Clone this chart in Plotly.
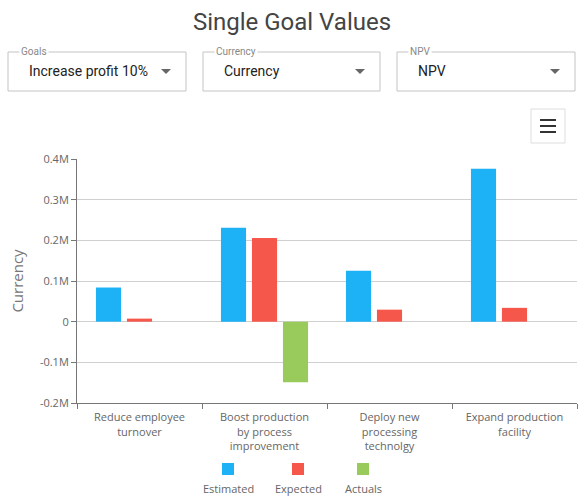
import plotly.graph_objects as go

categories = [
    "Reduce employee<br>turnover",
    "Boost production<br>by process<br>improvement",
    "Deploy new<br>processing<br>technolgy",
    "Expand production<br>facility",
]
series_names = ["Estimated", "Expected", "Actuals"]
estimated = [84000, 231000, 125000, 376000]
expected = [7500, 206000, 29500, 34000]
actuals = [0, -149000, 0, 0]
series_values = [estimated, expected, actuals]
series_colors = ["#1db1f6", "#f6574b", "#98ca5c"]

y_tickvals = [-200000, -100000, 0, 100000, 200000, 300000, 400000]
y_ticktext = ["-0.2M", "-0.1M", "0", "0.1M", "0.2M", "0.3M", "0.4M"]

dropdown_labels = ["Goals", "Currency", "NPV"]
dropdown_values = ["Increase profit 10%", "Currency", "NPV"]

W, H = 584, 498
L, R, T, B = 77, 577, 159, 403


def px(x):
    return (x - L) / (R - L)


def py(y):
    return (B - y) / (B - T)


fig = go.Figure()
for name, vals, col in zip(series_names, series_values, series_colors):
    fig.add_trace(go.Bar(x=categories, y=vals, name=name, marker_color=col,
                         marker_line_width=0, showlegend=False))

shapes = []
annotations = []

# dropdown boxes
boxes = [(8, 186), (203, 380), (397, 575)]
for (x0, x1), lab, val in zip(boxes, dropdown_labels, dropdown_values):
    shapes.append(dict(type="rect", xref="paper", yref="paper",
                       x0=px(x0), x1=px(x1), y0=py(91), y1=py(52),
                       line=dict(color="#c4c4c4", width=1), fillcolor="white"))
    annotations.append(dict(text=lab, xref="paper", yref="paper",
                            x=px(x0 + 11), y=py(52), xanchor="left", yanchor="middle",
                            showarrow=False, bgcolor="white", borderpad=1,
                            font=dict(family="Roboto", size=10, color="#888")))
    annotations.append(dict(text=val, xref="paper", yref="paper",
                            x=px(x0 + 19), y=py(71), xanchor="left", yanchor="middle",
                            showarrow=False,
                            font=dict(family="Roboto", size=14, color="#222")))
    ax = x1 - 20
    shapes.append(dict(type="path", xref="paper", yref="paper",
                       path=f"M {px(ax-5)},{py(69)} L {px(ax+5)},{py(69)} L {px(ax)},{py(74)} Z",
                       line=dict(width=0), fillcolor="#666"))

# menu button
shapes.append(dict(type="rect", xref="paper", yref="paper",
                   x0=px(531), x1=px(565), y0=py(143), y1=py(109),
                   line=dict(color="#dddddd", width=1), fillcolor="white"))
for yy in (120, 126, 132):
    shapes.append(dict(type="line", xref="paper", yref="paper",
                       x0=px(540), x1=px(556), y0=py(yy), y1=py(yy),
                       line=dict(color="#333", width=2)))

# legend
leg_x = [228, 298, 363]
for name, col, cx in zip(series_names, series_colors, leg_x):
    shapes.append(dict(type="rect", xref="paper", yref="paper",
                       x0=px(cx - 6), x1=px(cx + 6), y0=py(475), y1=py(463),
                       line=dict(width=0), fillcolor=col))
    annotations.append(dict(text=name, xref="paper", yref="paper",
                            x=px(cx), y=py(488), xanchor="center", yanchor="middle",
                            showarrow=False,
                            font=dict(family="Open Sans", size=11, color="#666")))

fig.update_layout(
    width=W, height=H,
    margin=dict(l=L, r=W - R, t=T, b=H - B, pad=0),
    paper_bgcolor="white", plot_bgcolor="white",
    barmode="group", bargap=0.256, bargroupgap=0.19,
    title=dict(text="Single Goal Values", x=0.5, xanchor="center",
               y=1 - 22 / H, yanchor="middle",
               font=dict(family="Roboto", size=24, color="#444")),
    font=dict(family="Open Sans", size=11, color="#666"),
    shapes=shapes, annotations=annotations,
    xaxis=dict(showgrid=False, showline=True, linecolor="#777", linewidth=1,
               ticks="outside", tickson="boundaries", ticklen=5, tickcolor="#777",
               ticklabelstandoff=4,
               tickfont=dict(family="Open Sans", size=11, color="#666"),
               fixedrange=True),
    yaxis=dict(range=[-200000, 400000], tickvals=y_tickvals, ticktext=y_ticktext,
               showgrid=True, gridcolor="#d0d0d0", gridwidth=1,
               zeroline=True, zerolinecolor="#d0d0d0", zerolinewidth=1,
               showline=True, linecolor="#777", linewidth=1,
               ticks="outside", ticklen=5, tickcolor="#777",
               tickfont=dict(family="Open Sans", size=11, color="#666"),
               title=dict(text="Currency", standoff=12,
                          font=dict(family="Open Sans", size=15, color="#777")),
               fixedrange=True),
)

fig.write_html("out.html", config={"displayModeBar": False},
               post_script="document.body.style.margin='0';document.body.style.overflow='hidden';")
